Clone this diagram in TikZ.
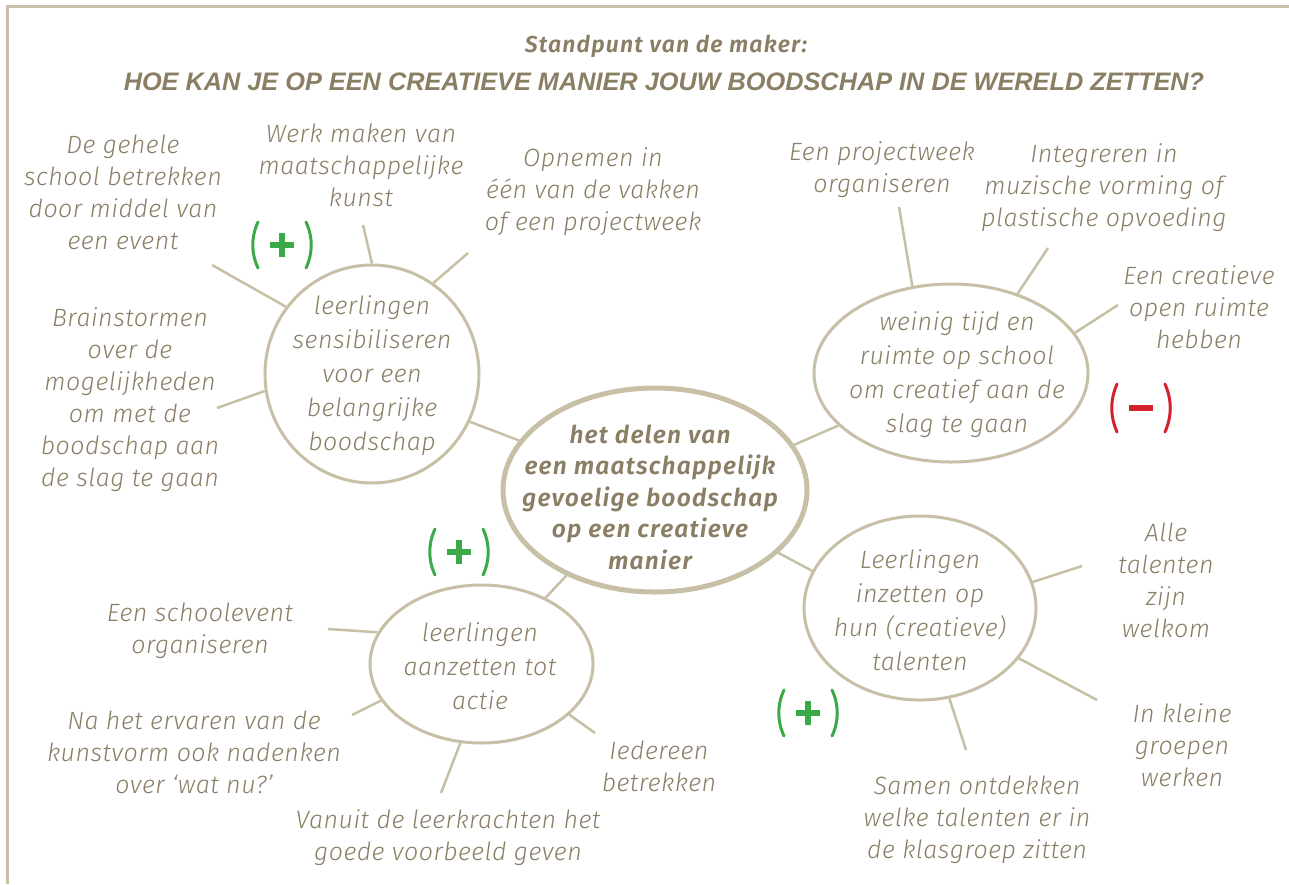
\documentclass[tikz,border=0pt]{standalone}
\usepackage{fontspec}
\setmainfont{Fira Sans}
\newfontfamily\bodyfont{Fira Sans Light}[ItalicFont={Fira Sans Light Italic}, LetterSpace=2]
\newfontfamily\semifont{Fira Sans SemiBold}[ItalicFont={Fira Sans SemiBold Italic}, LetterSpace=5]
\newfontfamily\titlefont{Liberation Sans}
\usetikzlibrary{shapes.geometric}
\definecolor{txtc}{RGB}{138,126,100}
\definecolor{linec}{RGB}{200,192,166}
\definecolor{plusc}{RGB}{58,170,72}
\definecolor{minc}{RGB}{210,35,45}
\tikzset{
  txt/.style={align=center, text=txtc, inner sep=0pt, font=\bodyfont\itshape\fontsize{25}{32}\selectfont},
  intxt/.style={align=center, text=txtc, inner sep=0pt, font=\bodyfont\itshape\fontsize{25}{34}\selectfont},
  bub/.style={ellipse, draw=linec, line width=3pt, inner sep=0pt},
  spoke/.style={draw=linec, line width=2.5pt},
  frame/.style={draw=linec, line width=3pt},
  pics/plusmark/.style={code={
    \draw[plusc, line width=3pt, line cap=round] (-24,-23) .. controls (-31,-8) and (-31,8) .. (-24,23);
    \draw[plusc, line width=3pt, line cap=round] (24,-23) .. controls (31,-8) and (31,8) .. (24,23);
    \fill[plusc] (-12,-3) rectangle (12,3);
    \fill[plusc] (-3,-12) rectangle (3,12);
  }},
  pics/minusmark/.style={code={
    \draw[minc, line width=3pt, line cap=round] (-24,-24) .. controls (-31,-8) and (-31,8) .. (-24,24);
    \draw[minc, line width=3pt, line cap=round] (24,-24) .. controls (31,-8) and (31,8) .. (24,24);
    \fill[minc] (-12,-3) rectangle (12,3);
  }}
}
\begin{document}
\begin{tikzpicture}[x=1pt, y=-1pt]
\useasboundingbox (0,0) rectangle (1289,884);
\fill[white] (0,0) rectangle (1289,884);
% frame
\coordinate (fb) at (7,884);
\coordinate (fc) at (7,6);
\coordinate (fr) at (1289,6);
\draw[frame] (fb) -- (fc) -- (fr);

% title
\node[text=txtc, inner sep=0pt, font=\semifont\itshape\fontsize{23}{26}\selectfont] (t1) at (666,46) {Standpunt van de maker:};
\node[text=txtc, inner sep=0pt, font=\titlefont\bfseries\itshape\fontsize{25.3}{28}\selectfont] (t2) at (664,82) {HOE KAN JE OP EEN CREATIEVE MANIER JOUW BOODSCHAP IN DE WERELD ZETTEN?};

% bubbles
\node[bub, line width=5pt, minimum width=304pt, minimum height=204pt] (C) at (655,490) {};
\node[bub, minimum width=214pt, minimum height=218pt] (L) at (372,374) {};
\node[bub, minimum width=274pt, minimum height=178pt] (RT) at (951,373) {};
\node[bub, minimum width=232pt, minimum height=184pt] (BR) at (920,608) {};
\node[bub, minimum width=223pt, minimum height=158pt] (BL) at (481.5,664) {};

% bubble texts
\node[align=center, text=txtc, inner sep=0pt, font=\semifont\itshape\fontsize{24.5}{31.5}\selectfont] (Ct) at (650,497) {het delen van\\een maatschappelijk\\gevoelige boodschap\\op een creatieve\\manier};
\node[intxt] (Lt) at (372,376) {leerlingen\\sensibiliseren\\voor een\\belangrijke\\boodschap};
\node[intxt] (RTt) at (957,375) {weinig tijd en\\ruimte op school\\om creatief aan de\\slag te gaan};
\node[intxt] (BRt) at (920,610) {Leerlingen\\inzetten op\\hun (creatieve)\\talenten};
\node[intxt] (BLt) at (480,666) {leerlingen\\aanzetten tot\\actie};

% outer texts
\node[txt] (tA) at (123,192) {De gehele\\school betrekken\\door middel van\\een event};
\node[txt] (tB) at (361,165) {Werk maken van\\maatschappelijke\\kunst};
\node[txt] (tC) at (593,192) {Opnemen in\\één van de vakken\\of een projectweek};
\node[txt] (tD) at (130,400) {Brainstormen\\over de\\mogelijkheden\\om met de\\boodschap aan\\de slag te gaan};
\node[txt] (tE) at (882,170) {Een projectweek\\organiseren};
\node[txt] (tF) at (1104,188) {Integreren in\\muzische vorming of\\plastische opvoeding};
\node[txt] (tG) at (1199,307) {Een creatieve\\open ruimte\\hebben};
\node[txt] (tH) at (1166,580) {Alle\\talenten\\zijn\\welkom};
\node[txt] (tI) at (1182,745) {In kleine\\groepen\\werken};
\node[txt] (tJ) at (977,820) {Samen ontdekken\\welke talenten er in\\de klasgroep zitten};
\node[txt] (tK) at (200,631) {Een schoolevent\\organiseren};
\node[txt] (tL) at (194,752) {Na het ervaren van de\\kunstvorm ook nadenken\\over ‘wat nu?’};
\node[txt] (tM) at (448,838) {Vanuit de leerkrachten het\\goede voorbeeld geven};
\node[txt] (tN) at (659,766) {Iedereen\\betrekken};

% spoke ends
\coordinate (eA) at (212,265);
\coordinate (eB) at (363,225);
\coordinate (eC) at (468,253);
\coordinate (eD) at (217,408);
\coordinate (eE) at (899,207);
\coordinate (eF) at (1048,248);
\coordinate (eG) at (1118,305);
\coordinate (eH) at (1082,566);
\coordinate (eI) at (1097,700);
\coordinate (eJ) at (966,750);
\coordinate (eK) at (328,629);
\coordinate (eL) at (352,715);
\coordinate (eM) at (441,793);
\coordinate (eN) at (595,733);

% connections between bubbles
\draw[spoke] (L.-26.6) -- (C.160.8);
\draw[spoke] (RT.205.1) -- (C.18.3);
\draw[spoke] (BR.161.2) -- (C.-27.5);
\draw[spoke] (BL.46.7) -- (C.224.7);

% spokes
\draw[spoke] (L.142.2) -- (eA);
\draw[spoke] (L.90.5) -- (eB);
\draw[spoke] (L.56.2) -- (eC);
\draw[spoke] (L.189.6) -- (eD);
\draw[spoke] (RT.114.4) -- (eE);
\draw[spoke] (RT.50.1) -- (eF);
\draw[spoke] (RT.18.7) -- (eG);
\draw[spoke] (BR.13.3) -- (eH);
\draw[spoke] (BR.-27) -- (eI);
\draw[spoke] (BR.-72.5) -- (eJ);
\draw[spoke] (BL.163) -- (eK);
\draw[spoke] (BL.200) -- (eL);
\draw[spoke] (BL.255) -- (eM);
\draw[spoke] (BL.-30) -- (eN);

% marks
\pic at (282,245) {plusmark};
\pic at (459,552) {plusmark};
\pic at (808,713) {plusmark};
\pic at (1141,408) {minusmark};
\end{tikzpicture}
\end{document}
